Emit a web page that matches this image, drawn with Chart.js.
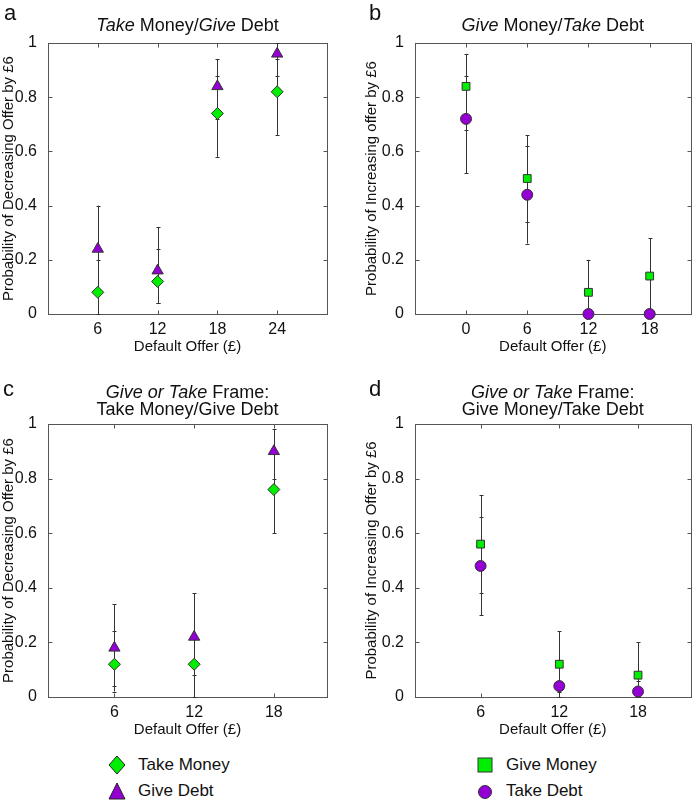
<!DOCTYPE html>
<html>
<head>
<meta charset="utf-8">
<script src="https://cdn.jsdelivr.net/npm/chart.js@4"></script>
<style>
    body { margin: 0; background: #fff; }
    #wrap { position: relative; width: 697px; height: 801px; font-family: "Liberation Sans", Arial, sans-serif; color: #111; }
    canvas { position: absolute; }
    .leg { position: absolute; font-size: 17px; line-height: 20px; white-space: nowrap; }
    .sym { position: absolute; }
</style>
</head>
<body>
<div id="wrap">
    <canvas id="pa" width="347" height="360" style="left:0;top:0"></canvas>
    <canvas id="pb" width="350" height="360" style="left:347px;top:0"></canvas>
    <canvas id="pc" width="347" height="370" style="left:0;top:370px"></canvas>
    <canvas id="pd" width="350" height="370" style="left:347px;top:370px"></canvas>

    <svg class="sym" style="left:108px;top:755px" width="18" height="20"><polygon points="9,1 17,10 9,19 1,10" fill="#00ee00" stroke="#222" stroke-width="1"/></svg>
    <div class="leg" style="left:138px;top:755px">Take Money</div>
    <svg class="sym" style="left:108px;top:782px" width="18" height="18"><polygon points="9,1 17,17 1,17" fill="#9400d3" stroke="#222" stroke-width="1"/></svg>
    <div class="leg" style="left:138px;top:781px">Give Debt</div>

    <svg class="sym" style="left:477px;top:757px" width="16" height="16"><rect x="1" y="1" width="14" height="14" fill="#00ee00" stroke="#333" stroke-width="1"/></svg>
    <div class="leg" style="left:506px;top:755px">Give Money</div>
    <svg class="sym" style="left:477px;top:784px" width="16" height="16"><circle cx="8" cy="8" r="6.5" fill="#9400d3" stroke="#333" stroke-width="1"/></svg>
    <div class="leg" style="left:506px;top:781px">Take Debt</div>
</div>
<script>
// y axis (shared)
const yTicks = [0, 0.2, 0.4, 0.6, 0.8, 1];
const yTickLabels = ['0', '0.2', '0.4', '0.6', '0.8', '1'];

// panel a
const aOffers = [6, 12, 18, 24];
const aTakeMoney = [0.08, 0.12, 0.74, 0.82];
const aTakeMoneyLo = [0.00, 0.04, 0.58, 0.66];
const aTakeMoneyHi = [0.20, 0.24, 0.88, 0.94];
const aGiveDebt = [0.24, 0.16, 0.84, 0.96];
const aGiveDebtLo = [0.08, 0.04, 0.72, 0.88];
const aGiveDebtHi = [0.40, 0.32, 0.94, 1.00];

// panel b
const bOffers = [0, 6, 12, 18];
const bGiveMoney = [0.84, 0.50, 0.08, 0.14];
const bGiveMoneyLo = [0.68, 0.34, 0.00, 0.00];
const bGiveMoneyHi = [0.96, 0.66, 0.20, 0.28];
const bTakeDebt = [0.72, 0.44, 0.00, 0.00];
const bTakeDebtLo = [0.52, 0.26, 0.00, 0.00];
const bTakeDebtHi = [0.88, 0.62, 0.00, 0.00];

// panel c
const cOffers = [6, 12, 18];
const cTakeMoney = [0.12, 0.12, 0.76];
const cTakeMoneyLo = [0.04, 0.00, 0.60];
const cTakeMoneyHi = [0.24, 0.22, 0.90];
const cGiveDebt = [0.18, 0.22, 0.90];
const cGiveDebtLo = [0.02, 0.08, 0.80];
const cGiveDebtHi = [0.34, 0.38, 0.98];

// panel d
const dOffers = [6, 12, 18];
const dGiveMoney = [0.56, 0.12, 0.08];
const dGiveMoneyLo = [0.38, 0.02, 0.00];
const dGiveMoneyHi = [0.74, 0.24, 0.20];
const dTakeDebt = [0.48, 0.04, 0.02];
const dTakeDebtLo = [0.30, 0.00, 0.00];
const dTakeDebtHi = [0.66, 0.12, 0.06];

const GREEN = '#00ee00';
const PURPLE = '#9400d3';
const FONT = '"Liberation Sans", Arial, sans-serif';

// error bars, drawn under the markers
const errorBars = {
    id: 'errorBars',
    beforeDatasetsDraw(chart) {
        const ctx = chart.ctx;
        const x = chart.scales.x, y = chart.scales.y;
        ctx.save();
        ctx.strokeStyle = '#333';
        ctx.lineWidth = 1;
        chart.data.datasets.forEach(ds => {
            ds.data.forEach((p, i) => {
                const lo = ds.lo[i], hi = ds.hi[i];
                if (lo === hi) return;
                const px = Math.round(x.getPixelForValue(p.x)) + 0.5;
                const y1 = y.getPixelForValue(lo), y2 = y.getPixelForValue(hi);
                ctx.beginPath();
                ctx.moveTo(px, y1); ctx.lineTo(px, y2);
                ctx.moveTo(px - 2, Math.round(y1) + 0.5); ctx.lineTo(px + 2, Math.round(y1) + 0.5);
                ctx.moveTo(px - 2, Math.round(y2) + 0.5); ctx.lineTo(px + 2, Math.round(y2) + 0.5);
                ctx.stroke();
            });
        });
        ctx.restore();
    }
};

// matlab style box with inner ticks
const axisBox = {
    id: 'axisBox',
    beforeDatasetsDraw(chart) {
        const ctx = chart.ctx, a = chart.chartArea;
        const x = chart.scales.x, y = chart.scales.y;
        const L = Math.round(a.left) + 0.5, R = Math.round(a.right) + 0.5;
        const T = Math.round(a.top) + 0.5, B = Math.round(a.bottom) + 0.5;
        ctx.save();
        ctx.strokeStyle = '#555';
        ctx.lineWidth = 1;
        ctx.strokeRect(L, T, R - L, B - T);
        ctx.beginPath();
        x.ticks.forEach(t => {
            const px = Math.round(x.getPixelForValue(t.value)) + 0.5;
            ctx.moveTo(px, B); ctx.lineTo(px, B - 4);
            ctx.moveTo(px, T); ctx.lineTo(px, T + 4);
        });
        y.ticks.forEach(t => {
            const py = Math.round(y.getPixelForValue(t.value)) + 0.5;
            ctx.moveTo(L, py); ctx.lineTo(L + 4, py);
            ctx.moveTo(R, py); ctx.lineTo(R - 4, py);
        });
        ctx.stroke();
        ctx.restore();
    }
};

// title with italic parts + panel letter
const panelTitle = {
    id: 'panelTitle',
    afterDraw(chart, args, opts) {
        const ctx = chart.ctx, a = chart.chartArea;
        const cx = (a.left + a.right) / 2;
        ctx.save();
        ctx.fillStyle = '#111';
        ctx.textBaseline = 'middle';
        opts.lines.forEach((line, li) => {
            let w = 0;
            line.forEach(s => {
                ctx.font = (s.i ? 'italic ' : '') + '18px ' + FONT;
                w += ctx.measureText(s.t).width;
            });
            let xx = cx - w / 2;
            line.forEach(s => {
                ctx.font = (s.i ? 'italic ' : '') + '18px ' + FONT;
                ctx.textAlign = 'left';
                ctx.fillText(s.t, xx, opts.lineY[li]);
                xx += ctx.measureText(s.t).width;
            });
        });
        ctx.font = '22px ' + FONT;
        ctx.fillText(opts.letter, opts.letterX, opts.letterY);
        ctx.restore();
    }
};

function dataset(xs, ys, lo, hi, color, style, r) {
    return {
        data: xs.map((v, i) => ({ x: v, y: ys[i] })),
        lo, hi,
        showLine: false,
        clip: false,
        pointStyle: style,
        pointRadius: r,
        backgroundColor: color,
        borderColor: '#333',
        borderWidth: 1
    };
}

function makePanel(id, o) {
    new Chart(document.getElementById(id), {
        type: 'scatter',
        data: { datasets: o.datasets },
        plugins: [axisBox, errorBars, panelTitle],
        options: {
            responsive: false,
            animation: false,
            events: [],
            layout: { padding: { top: o.padTop, right: o.padRight, bottom: 0, left: 0 } },
            plugins: {
                legend: { display: false },
                tooltip: { enabled: false },
                panelTitle: o.title
            },
            scales: {
                x: {
                    type: 'linear',
                    min: o.xMin, max: o.xMax,
                    afterBuildTicks: s => { s.ticks = o.offers.map(v => ({ value: v })); },
                    afterFit: s => { s.height = o.xHeight; },
                    grid: { display: false },
                    border: { display: false },
                    ticks: { font: { family: FONT, size: 16 }, color: '#111', padding: -2 },
                    title: { display: true, text: 'Default Offer (£)', color: '#111',
                             font: { family: FONT, size: 15 }, padding: { top: 0, bottom: o.xTitlePad } }
                },
                y: {
                    type: 'linear',
                    min: 0, max: 1,
                    afterBuildTicks: s => { s.ticks = yTicks.map(v => ({ value: v })); },
                    afterFit: s => { s.width = o.yWidth; },
                    grid: { display: false },
                    border: { display: false },
                    ticks: { font: { family: FONT, size: 16 }, color: '#111', padding: 3,
                             callback: v => yTickLabels[yTicks.indexOf(v)] },
                    title: { display: true, text: o.yTitle, color: '#111',
                             font: { family: FONT, size: 15 }, padding: { top: o.yTitlePad, bottom: 0 } }
                }
            }
        }
    });
}

makePanel('pa', {
    offers: aOffers, xMin: 1, xMax: 29,
    padTop: 43, padRight: 20, xHeight: 46, xTitlePad: 4, yWidth: 48, yTitlePad: 0,
    yTitle: 'Probability of Decreasing Offer by £6',
    title: { lines: [[{ t: 'Take', i: true }, { t: ' Money/' }, { t: 'Give', i: true }, { t: ' Debt' }]],
             lineY: [26], letter: 'a', letterX: 4, letterY: 14 },
    datasets: [
        dataset(aOffers, aTakeMoney, aTakeMoneyLo, aTakeMoneyHi, GREEN, 'rectRot', 6),
        dataset(aOffers, aGiveDebt, aGiveDebtLo, aGiveDebtHi, PURPLE, 'triangle', 6.5)
    ]
});

makePanel('pb', {
    offers: bOffers, xMin: -5, xMax: 22,
    padTop: 43, padRight: 2, xHeight: 46, xTitlePad: 4, yWidth: 68, yTitlePad: 16,
    yTitle: 'Probability of Increasing offer by £6',
    title: { lines: [[{ t: 'Give', i: true }, { t: ' Money/' }, { t: 'Take', i: true }, { t: ' Debt' }]],
             lineY: [26], letter: 'b', letterX: 22, letterY: 14 },
    datasets: [
        dataset(bOffers, bGiveMoney, bGiveMoneyLo, bGiveMoneyHi, GREEN, 'rect', 5.5),
        dataset(bOffers, bTakeDebt, bTakeDebtLo, bTakeDebtHi, PURPLE, 'circle', 5.5)
    ]
});

makePanel('pc', {
    offers: cOffers, xMin: 1, xMax: 22,
    padTop: 54, padRight: 20, xHeight: 43, xTitlePad: 1, yWidth: 48, yTitlePad: 0,
    yTitle: 'Probability of Decreasing Offer by £6',
    title: { lines: [[{ t: 'Give or Take', i: true }, { t: ' Frame:' }], [{ t: 'Take Money/Give Debt' }]],
             lineY: [23, 40], letter: 'c', letterX: 3, letterY: 20 },
    datasets: [
        dataset(cOffers, cTakeMoney, cTakeMoneyLo, cTakeMoneyHi, GREEN, 'rectRot', 6),
        dataset(cOffers, cGiveDebt, cGiveDebtLo, cGiveDebtHi, PURPLE, 'triangle', 6.5)
    ]
});

makePanel('pd', {
    offers: dOffers, xMin: 1, xMax: 22,
    padTop: 54, padRight: 2, xHeight: 43, xTitlePad: 1, yWidth: 68, yTitlePad: 16,
    yTitle: 'Probability of Increasing Offer by £6',
    title: { lines: [[{ t: 'Give or Take', i: true }, { t: ' Frame:' }], [{ t: 'Give Money/Take Debt' }]],
             lineY: [23, 40], letter: 'd', letterX: 22, letterY: 20 },
    datasets: [
        dataset(dOffers, dGiveMoney, dGiveMoneyLo, dGiveMoneyHi, GREEN, 'rect', 5.5),
        dataset(dOffers, dTakeDebt, dTakeDebtLo, dTakeDebtHi, PURPLE, 'circle', 5.5)
    ]
});
</script>
</body>
</html>
